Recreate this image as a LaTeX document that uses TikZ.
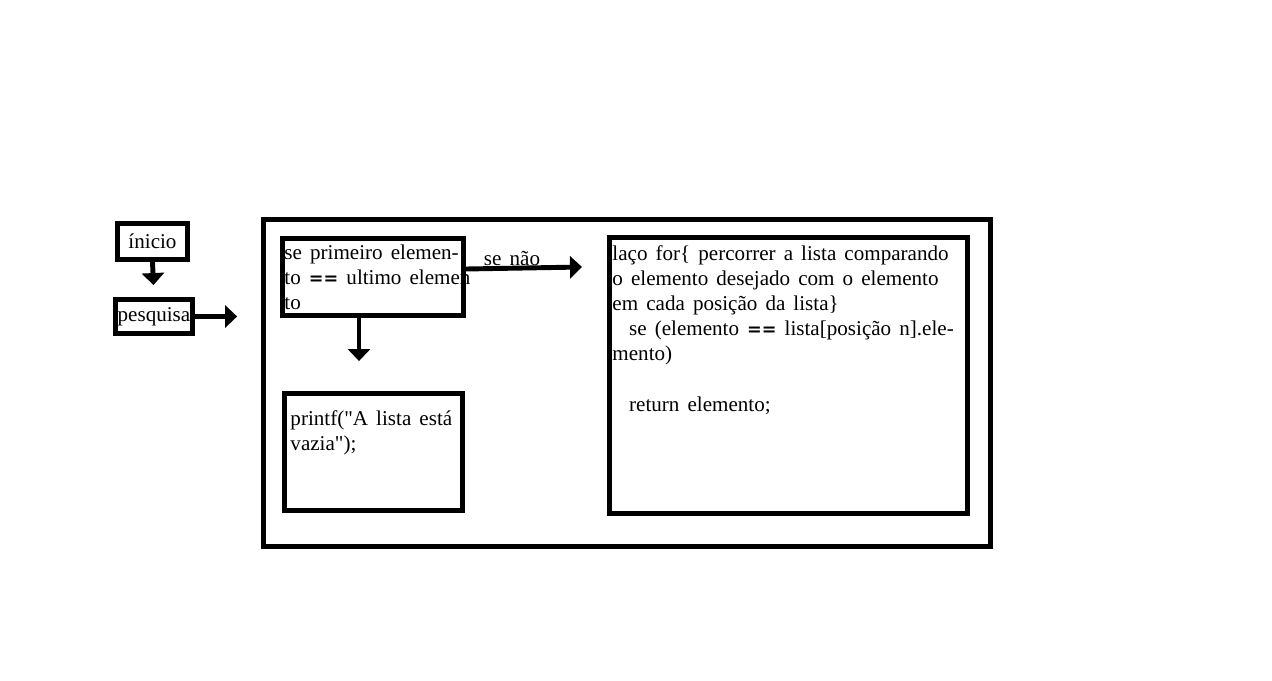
\documentclass[tikz,border=0pt]{standalone}
\usepackage{fontspec}
\setmainfont{Liberation Serif}[Ligatures=TeXOff]
\newfontfamily\igualfont{DejaVu Sans}
\usetikzlibrary{positioning, arrows.meta}
\begin{document}
\begin{tikzpicture}[x=0.02cm,y=-0.02cm]
		\tikzstyle{every path}=[line width=2.8pt]
		\tikzstyle{caixa}=[draw, rectangle, inner sep=1pt, font=\fontsize{12}{14.3}\selectfont]
		\tikzstyle{texto}=[anchor=north west, inner sep=0pt, align=left, font={\fontsize{12}{14.3}\selectfont\spaceskip=4.6pt\relax}]
		\tikzstyle{seta}=[-{Triangle[width=0.44cm,length=0.24cm]}]
		\newcommand{\igual}{{\igualfont\bfseries\fontsize{10}{12}\selectfont ==}}
		
		\useasboundingbox (0,0) rectangle (1272,680);
		
		%% Inicio e pesquisa
		\node [caixa, minimum width=1.4cm, minimum height=0.72cm] (inicio) at (152.5,241.5) {ínicio};
		\node [caixa, minimum width=1.42cm, minimum height=0.68cm] (pesquisa) at (154,316.5) {pesquisa};
		
		%% Bloco da pesquisa
		\node [caixa, minimum width=14.54cm, minimum height=6.54cm] (bloco) at (627,383) {};
		\node [caixa, minimum width=3.62cm, minimum height=1.54cm] (cond) at (373,277) {};
		\node [caixa, minimum width=3.56cm, minimum height=2.34cm] (vazia) at (373.5,452) {};
		\node [caixa, minimum width=7.16cm, minimum height=5.52cm] (laco) at (788.5,375.5) {};
		
		%% Textos
		\node [texto] (tcond) at (282,242) {se primeiro elemen-\\to \igual{} ultimo elemen\\to};
		\node [texto] (tvazia) at (288,408) {printf("A lista está\\vazia");};
		\node [texto] (tlaco) at (610,243) {laço for\{ percorrer a lista comparando\\o elemento desejado com o elemento\\em cada posição da lista\}\\\hspace*{9.5pt}se (elemento \igual{} lista[posição n].ele-\\mento)\\[14.3pt]\hspace*{9.5pt}return elemento;};
		\node [texto, anchor=center] (senao) at (512,258) {se não};
		
		%% Setas
		\coordinate (fimsenao) at (582,267);
		\draw [seta, shorten >=0.24cm] (inicio.south) -- (pesquisa.north);
		\draw [seta, shorten >=0.48cm] (pesquisa.east) -- (pesquisa.east -| bloco.west);
		\draw [seta, shorten >=0.6cm] ([xshift=-0.28cm]cond.south) -- ([xshift=-0.28cm]cond.south |- vazia.north);
		\draw [seta] ([yshift=0.16cm]cond.east) -- (fimsenao);
		
	\end{tikzpicture}
\end{document}
